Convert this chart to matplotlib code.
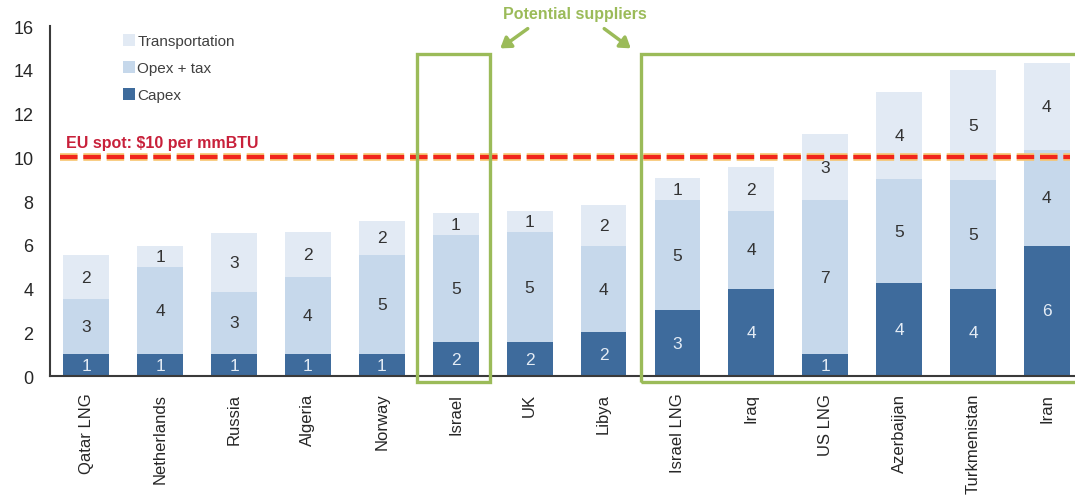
import matplotlib
matplotlib.use("Agg")
import matplotlib.pyplot as plt
import matplotlib.patheffects as pe
from matplotlib.patches import Rectangle, FancyArrowPatch

countries = ["Qatar LNG", "Netherlands", "Russia", "Algeria", "Norway", "Israel", "UK",
             "Libya", "Israel LNG", "Iraq", "US LNG", "Azerbaijan", "Turkmenistan", "Iran"]
capex = [1.0, 1.0, 1.0, 1.0, 1.0, 1.54, 1.54, 2.0, 3.0, 4.0, 1.0, 4.25, 4.0, 5.95]
opex_tax = [2.52, 4.0, 2.85, 3.55, 4.55, 4.9, 5.03, 3.95, 5.04, 3.55, 7.05, 4.75, 4.95, 4.4]
transportation = [2.0, 0.95, 2.7, 2.05, 1.55, 1.0, 0.97, 1.87, 1.0, 2.0, 3.0, 4.0, 5.03, 3.95]
eu_spot = 10
y_ticks = [0, 2, 4, 6, 8, 10, 12, 14, 16]

FONT = ["Liberation Sans", "DejaVu Sans"]
plt.rcParams["font.family"] = FONT

C_CAPEX = "#3E6B9C"
C_OPEX = "#C6D8EB"
C_TRANS = "#E2EAF4"
GREEN = "#9BBB59"

fig = plt.figure(figsize=(10.75, 5.02), dpi=100)
ax = fig.add_axes([50 / 1075, 0.249, 1025 / 1075, 0.697])

x = list(range(len(countries)))
w = 0.62
b1 = ax.bar(x, capex, w, color=C_CAPEX, label="Capex", zorder=2)
b2 = ax.bar(x, opex_tax, w, bottom=capex, color=C_OPEX, label="Opex + tax", zorder=2)
bottom2 = [c + o for c, o in zip(capex, opex_tax)]
b3 = ax.bar(x, transportation, w, bottom=bottom2, color=C_TRANS, label="Transportation", zorder=2)

def lab(v):
    return str(int(v + 0.5))

for i in x:
    ax.text(i, capex[i] / 2, lab(capex[i]), ha="center", va="center",
            fontsize=12.5, color="#E4ECF5", zorder=4)
    ax.text(i, capex[i] + opex_tax[i] / 2, lab(opex_tax[i]), ha="center", va="center",
            fontsize=12.5, color="#333333", zorder=4)
    ax.text(i, bottom2[i] + transportation[i] / 2, lab(transportation[i]), ha="center",
            va="center", fontsize=12.5, color="#333333", zorder=4)

ax.set_xlim(-0.49, 13.38)
ax.set_ylim(0, 16)
ax.set_yticks(y_ticks)
ax.set_xticks(x)
ax.set_xticklabels(countries, rotation=90, fontsize=12, color="#262626")
ax.tick_params(axis="y", labelsize=13, labelcolor="#262626", length=0, pad=12)
ax.tick_params(axis="x", length=0, pad=12)
for s in ["top", "right"]:
    ax.spines[s].set_visible(False)
ax.spines["left"].set_color("#3a3a3a")
ax.spines["bottom"].set_color("#3a3a3a")
ax.spines["left"].set_linewidth(1.5)
ax.spines["bottom"].set_linewidth(1.5)

# EU spot line
ax.axhline(eu_spot, xmin=0.01, xmax=0.995, color="#F0251B", lw=3.0, dashes=(4.2, 1.4), zorder=5,
           path_effects=[pe.Stroke(linewidth=5.5, foreground="#F7C46E"), pe.Normal()])
ax.text(-0.28, 10.45, "EU spot: $10 per mmBTU", fontsize=11.5, fontweight="bold",
        color="#C8203A", ha="left", va="baseline", zorder=5)

# Green boxes
ax.add_patch(Rectangle((4.48, -0.27), 0.99, 14.99, fill=False, ec=GREEN, lw=2.4,
                       clip_on=False, zorder=6))
ax.add_patch(Rectangle((7.51, -0.27), 6.2, 14.99, fill=False, ec=GREEN, lw=2.4,
                       clip_on=False, zorder=6))

fig.text(575 / 1075, 1 - 15 / 502, "Potential suppliers", fontsize=11.5, fontweight="bold",
         color=GREEN, ha="center", va="center")
for (x0, y0, x1, y1) in [(530, 28, 498, 51), (602, 28, 633, 51)]:
    fig.patches.append(FancyArrowPatch((x0 / 1075, 1 - y0 / 502), (x1 / 1075, 1 - y1 / 502),
                                       transform=fig.transFigure, arrowstyle="-|>,head_length=6,head_width=4",
                                       color=GREEN, lw=2.5, mutation_scale=1))

# Legend
handles = [b3, b2, b1]
leg = ax.legend(handles, ["Transportation", "Opex + tax", "Capex"], loc="upper left",
                bbox_to_anchor=(0.058, 1.017), frameon=False, fontsize=11, handlelength=0.78,
                handleheight=0.8, handletextpad=0.15, labelspacing=0.85, labelcolor="#404040")

fig.savefig("out.png", dpi=100)
